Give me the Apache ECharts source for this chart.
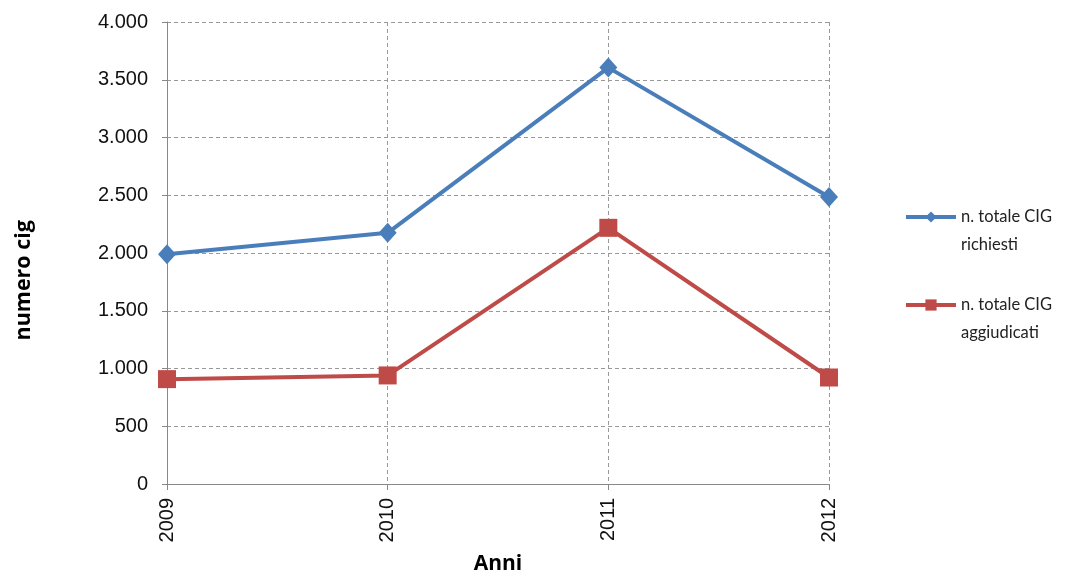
<!DOCTYPE html>
<html><head><meta charset="utf-8">
<script src="https://cdn.jsdelivr.net/npm/echarts@6/dist/echarts.min.js"></script>
<style>html,body{margin:0;padding:0;background:#fff}#c{width:1073px;height:580px}</style>
</head><body><div id="c"></div>
<script>
const categories = ['2009','2010','2011','2012'];
const richiesti = [1990, 2175, 3605, 2485];
const aggiudicati = [908, 940, 2218, 922];
const seriesNames = ['n. totale CIG\nrichiesti', 'n. totale CIG\naggiudicati'];
const yTicks = {min: 0, max: 4000, interval: 500};

const fmt = v => v === 0 ? '0' : String(v).replace(/\B(?=(\d{3})+(?!\d))/g, '.');
const font = 'Lato, "Open Sans", sans-serif';
const tickFont = '"Liberation Sans", Arial, sans-serif';
const titleFont = '"Open Sans", Lato, sans-serif';
const chart = echarts.init(document.getElementById('c'));
chart.setOption({
  animation: false,
  textStyle: {fontFamily: font},
  grid: {left: 167, right: 244, top: 22, bottom: 80, containLabel: false},
  graphic: [{
    type: 'text', left: 13, top: 220, rotation: Math.PI / 2,
    style: {text: 'numero cig', fontSize: 21.5, fontWeight: 'bold', fill: '#000', fontFamily: titleFont}
  }],
  legend: {
    orient: 'vertical', left: 899, top: 170, itemGap: 4,
    itemWidth: 50, itemHeight: 14,
    lineStyle: {width: 4},
    textStyle: {fontSize: 16.5, color: '#222', fontFamily: font, lineHeight: 28},
    formatter: name => ' \n' + name,
    data: seriesNames
  },
  xAxis: {
    type: 'category', data: categories, boundaryGap: false,
    name: 'Anni', nameLocation: 'middle', nameGap: 70,
    nameTextStyle: {fontSize: 21, fontWeight: 'bold', color: '#000', fontFamily: titleFont},
    axisLine: {lineStyle: {color: '#888', width: 1}},
    axisTick: {show: true, alignWithLabel: true, length: 6, lineStyle: {color: '#888'}},
    axisLabel: {rotate: 90, fontSize: 20, color: '#111', margin: 14, fontFamily: tickFont},
    splitLine: {show: true, lineStyle: {type: [4, 3], color: '#999', width: 1}}
  },
  yAxis: {
    type: 'value', min: yTicks.min, max: yTicks.max, interval: yTicks.interval,
    axisLine: {show: true, lineStyle: {color: '#888', width: 1}},
    axisTick: {show: true, length: 5, lineStyle: {color: '#888'}},
    axisLabel: {fontSize: 20, color: '#111', margin: 19, formatter: fmt, fontFamily: tickFont},
    splitLine: {show: true, lineStyle: {type: [4, 3], color: '#999', width: 1}}
  },
  series: [
    {name: seriesNames[0], type: 'line', data: richiesti, symbol: 'diamond', symbolSize: [18, 20],
     lineStyle: {width: 4, color: '#4A7EBB'}, itemStyle: {color: '#4A7EBB'}},
    {name: seriesNames[1], type: 'line', data: aggiudicati, symbol: 'rect', symbolSize: 18,
     lineStyle: {width: 4, color: '#BE4B48'}, itemStyle: {color: '#BE4B48'}}
  ]
});
</script></body></html>
